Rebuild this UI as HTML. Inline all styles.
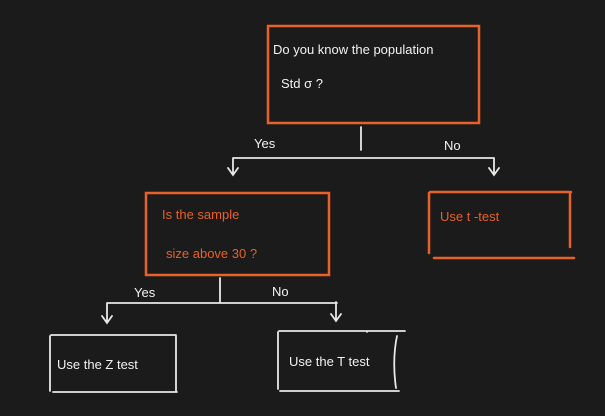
<!DOCTYPE html>
<html><head><meta charset="utf-8"><style>
html,body{margin:0;padding:0;background:#1b1b1b;width:605px;height:416px;overflow:hidden}
svg{display:block}
text{font-family:"Liberation Sans",sans-serif;font-size:13px}
</style></head><body>
<svg width="605" height="416" viewBox="0 0 605 416" xmlns="http://www.w3.org/2000/svg">
<rect width="605" height="416" fill="#1b1b1b"/>
<g fill="none" stroke-linecap="round">
<!-- top box -->
<rect x="268" y="26" width="211" height="97" stroke="#e8602a" stroke-width="2.5"/>
<!-- orange box 2 -->
<rect x="146" y="193" width="183" height="82" stroke="#e8602a" stroke-width="2.5"/>
<!-- box 3 -->
<path d="M430 192 H571 M429 193 V253 M570 193 V247 M434 258 H574" stroke="#e8602a" stroke-width="2.5"/>
<!-- connectors top -->
<g stroke="#e8e8e8" stroke-width="1.8">
<path d="M361 127 V150 M233 158 H494 M233 158 V174 M228 168 L233 175 L238 168 M494 158 V174 M489 168 L494 175 L499 168"/>
<path d="M220 278 V302 M107 303 H337 M107 303 V322 M102 316 L107 323 L112 316 M336 302 V320 M331 314 L336 321 L341 314"/>
<!-- bottom boxes -->
<path d="M51 335 H176 M50 336 V391 M176 336 V392 M53 392 H177"/>
<path d="M279 331 H405 M278 332 V389 M367 332 V332 M397 336 Q392 360 396 388 M280 391 H399"/>
</g>
</g>
<g fill="#f2f2f2">
<text x="273" y="54" font-size="12">Do you know the population</text>
<text x="281" y="88" font-size="13">Std  σ ?</text>
<text x="254" y="148" font-size="12">Yes</text>
<text x="444" y="150" font-size="12">No</text>
<text x="134" y="297" font-size="12">Yes</text>
<text x="272" y="296" font-size="12">No</text>
<text x="57" y="369" font-size="12">Use the Z test</text>
<text x="289" y="366" font-size="12">Use the T test</text>
</g>
<g fill="#e8602a">
<text x="162" y="219" font-size="12">Is the  sample</text>
<text x="166" y="258" font-size="13">size  above  30 ?</text>
<text x="440" y="221" font-size="13">Use  t -test</text>
</g>
</svg>
</body></html>
